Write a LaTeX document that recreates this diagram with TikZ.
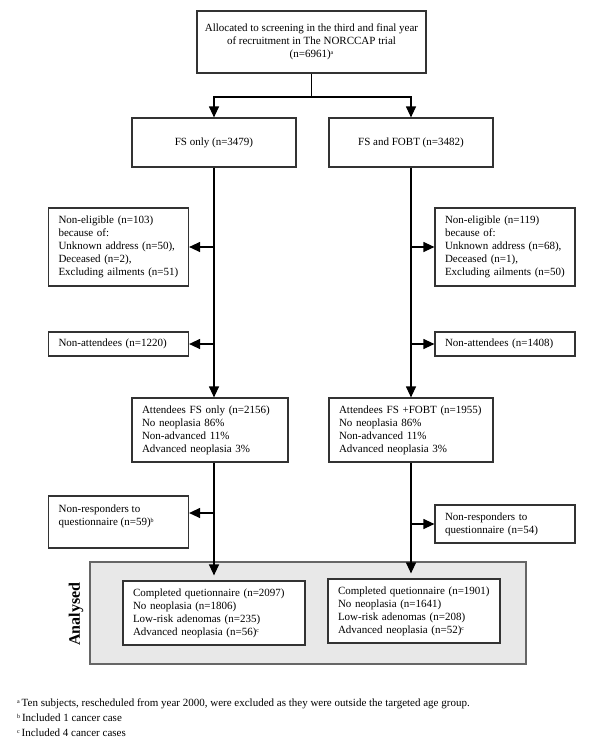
\documentclass[tikz,border=0pt]{standalone}
\usepackage{fontspec}
\setmainfont{Liberation Serif}
\usetikzlibrary{arrows.meta}
\newcommand{\fnm}[1]{\raisebox{3pt}{\fontsize{6}{6}\selectfont #1}}
\begin{document}
\begin{tikzpicture}[x=1pt,y=-1pt,
  every node/.style={font=\fontsize{11}{13}\selectfont},
  box/.style={draw=black!80, line width=1.2pt, rectangle, inner ysep=0pt},
  lbox/.style={box, align=left, inner xsep=10pt},
  cbox/.style={box, align=center},
  txt/.style={inner sep=0pt, align=left},
  ln/.style={line width=1.2pt},
  arr/.style={line width=1.2pt, -{Triangle[length=11pt,width=10pt]}}]
\useasboundingbox (0,0) rectangle (600,740);

% grey analysed panel
\node[draw=black!60, fill=black!9, line width=1.2pt, minimum width=436, minimum height=102] (grey) at (308,613) {};
\node[rotate=90, font=\fontsize{16}{18}\selectfont\bfseries] (an) at (76,614) {Analysed};

\node[cbox, minimum width=229, minimum height=62] (top) at (311.5,42)
  {Allocated to screening in the third and final year\\ of recruitment in The NORCCAP trial\\ (n=6961)\fnm{a}};

\node[cbox, minimum width=164, minimum height=49] (fs) at (214,142.5) {FS only (n=3479)};
\node[cbox, minimum width=164, minimum height=49] (fob) at (411,142.5) {FS and FOBT (n=3482)};

\node[lbox, text width=120, minimum height=78] (ne1) at (118.5,247)
  {Non-eligible (n=103)\\ because of:\\ Unknown address (n=50),\\ Deceased (n=2),\\ Excluding ailments (n=51)};
\node[lbox, text width=120, minimum height=78] (ne2) at (505,247)
  {Non-eligible (n=119)\\ because of:\\ Unknown address (n=68),\\ Deceased (n=1),\\ Excluding ailments (n=50)};

\node[lbox, text width=120, minimum height=24] (na1) at (118.5,344) {Non-attendees (n=1220)};
\node[lbox, text width=120, minimum height=24] (na2) at (505,344) {Non-attendees (n=1408)};

\node[lbox, text width=136, minimum height=64] (at1) at (210,430)
  {Attendees FS only (n=2156)\\ No neoplasia 86\%\\ Non-advanced 11\%\\ Advanced neoplasia 3\%};
\node[lbox, text width=144, minimum height=64] (at2) at (411,430)
  {Attendees FS +FOBT (n=1955)\\ No neoplasia 86\%\\ Non-advanced 11\%\\ Advanced neoplasia 3\%};

\node[box, minimum width=140, minimum height=52] (nr1) at (118.5,522) {};
\node[txt, anchor=west] (nr1t) at (58.5,516.5) {Non-responders to\\ questionnaire (n=59)\fnm{b}};
\node[lbox, text width=120, minimum height=38] (nr2) at (505,524)
  {Non-responders to\\ questionnaire (n=54)};

\node[lbox, fill=white, text width=162, minimum height=64] (c1) at (214,613)
  {Completed quetionnaire (n=2097)\\ No neoplasia (n=1806)\\ Low-risk adenomas (n=235)\\ Advanced neoplasia (n=56)\fnm{c}};
\node[lbox, fill=white, text width=152, minimum height=64] (c2) at (414,611)
  {Completed quetionnaire (n=1901)\\ No neoplasia (n=1641)\\ Low-risk adenomas (n=208)\\ Advanced neoplasia (n=52)\fnm{c}};

% connectors
\coordinate (j) at (311.5,97);
\draw[ln] (top.south) -- (j);
\draw[arr] (j) -| (fs.north);
\draw[arr] (j) -| (fob.north);

\draw[arr] (fs.south) -- (fs.south |- at1.north);
\draw[arr] (fs.south |- ne1.east) -- (ne1.east);
\draw[arr] (fs.south |- na1.east) -- (na1.east);
\coordinate (nr1a) at ([yshift=9pt]nr1.east);
\draw[arr] (c1.north |- at1.south) -- (c1.north |- grey.north) -- ([yshift=5pt]c1.north);
\draw[arr] (nr1a -| c1.north) -- (nr1a);

\draw[arr] (fob.south) -- (at2.north);
\draw[arr] (fob.south |- ne2.west) -- (ne2.west);
\draw[arr] (fob.south |- na2.west) -- (na2.west);
\draw[arr] (at2.south) -- (at2.south |- grey.north) -- ([yshift=5pt]at2.south |- c2.north);
\draw[arr] (at2.south |- nr2.west) -- (nr2.west);

% footnotes
\node[txt, anchor=base west] (f1) at (17,706) {\fnm{a}\,Ten subjects, rescheduled from year 2000, were excluded as they were outside the targeted age group.};
\node[txt, anchor=base west] (f2) at (17,721) {\fnm{b}\,Included 1 cancer case};
\node[txt, anchor=base west] (f3) at (17,736) {\fnm{c}\,Included 4 cancer cases};
\end{tikzpicture}
\end{document}
